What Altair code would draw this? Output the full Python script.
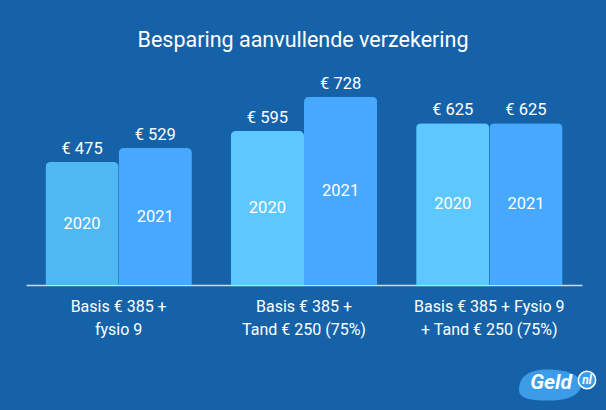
import altair as alt
import pandas as pd

title_text = "Besparing aanvullende verzekering"
groups = ["Basis € 385 +\nfysio 9",
          "Basis € 385 +\nTand € 250 (75%)",
          "Basis € 385 + Fysio 9\n+ Tand € 250 (75%)"]
years = ["2020", "2021"]
values_2020 = [475, 595, 625]
values_2021 = [529, 728, 625]

rows = []
for i, g in enumerate(groups):
    rows.append({"group": g, "year": "2020", "value": values_2020[i],
                 "key": "2020a" if i == 0 else "2020b"})
    rows.append({"group": g, "year": "2021", "value": values_2021[i], "key": "2021"})
df = pd.DataFrame(rows)
df["mid"] = df["value"] / 2
df["label"] = "€ " + df["value"].astype(str)

BG = "#1562A8"
FONT = "Roboto"

x = alt.X("group:N", sort=groups,
          scale=alt.Scale(paddingInner=0.21, paddingOuter=0.105),
          axis=alt.Axis(title=None, labelExpr="split(datum.label, '\\n')",
                        labelColor="white", labelFontSize=16, labelFont=FONT,
                        labelAngle=0, labelPadding=13, labelLineHeight=23,
                        ticks=False, domainColor="#C8DCF0", domainWidth=1.5,
                        labelBaseline="top"))
xo = alt.XOffset("year:N", sort=years, scale=alt.Scale(paddingInner=0, paddingOuter=0))

base = alt.Chart(df).encode(x=x, xOffset=xo)

bars = base.mark_bar(cornerRadiusTopLeft=5, cornerRadiusTopRight=5).encode(
    y=alt.Y("value:Q", scale=alt.Scale(domain=[0, 800]), axis=None),
    color=alt.Color("key:N", scale=alt.Scale(domain=["2020a", "2020b", "2021"],
                                             range=["#4FB8F2", "#5CC8FF", "#46A8FF"]),
                    legend=None),
)

value_text = base.mark_text(dy=-8, baseline="alphabetic", fontSize=16.5, font=FONT,
                            color="white").encode(y=alt.Y("value:Q"), text="label:N")

year_text = base.mark_text(fontSize=16.5, font=FONT, color="white").encode(
    y=alt.Y("mid:Q"), text="year:N")

title = alt.Chart(pd.DataFrame({"t": [title_text]})).mark_text(
    fontSize=21.5, font=FONT, color="white", baseline="alphabetic"
).encode(x=alt.value(277), y=alt.value(-31), text="t:N")

logo_df = pd.DataFrame({"t": ["Geld"]})
blob = alt.Chart(logo_df).mark_point(
    shape="M-1,0.15 C-1,-0.25 -0.7,-0.5 -0.1,-0.5 C0.5,-0.5 1,-0.35 1,0 C1,0.3 0.6,0.5 0,0.5 C-0.6,0.5 -1,0.45 -1,0.15 Z",
    filled=True, opacity=1, color="#3D9CE8", size=3844, strokeWidth=0
).encode(x=alt.value(524), y=alt.value(307))
nl_circle = alt.Chart(logo_df).mark_point(
    shape="circle", filled=True, opacity=1, fill="#3D9CE8", size=300,
    stroke="white", strokeWidth=1.5
).encode(x=alt.value(561), y=alt.value(302))
geld = alt.Chart(logo_df).mark_text(
    fontSize=21, font=FONT, fontWeight="bold", fontStyle="italic", color="white"
).encode(x=alt.value(525), y=alt.value(305), text="t:N")
nl = alt.Chart(pd.DataFrame({"t": ["nl"]})).mark_text(
    fontSize=12, font=FONT, fontWeight="bold", fontStyle="italic", color="white"
).encode(x=alt.value(561), y=alt.value(302), text="t:N")

chart = alt.layer(bars, value_text, year_text, title, blob, nl_circle, geld, nl).properties(
    width=556, height=207,
    background=BG,
    autosize=alt.AutoSizeParams(type="none"),
    padding={"left": 26, "top": 78, "right": 24, "bottom": 125},
).configure_view(stroke=None)

chart.save("out.html", embed_options={"renderer": "svg", "actions": False})
